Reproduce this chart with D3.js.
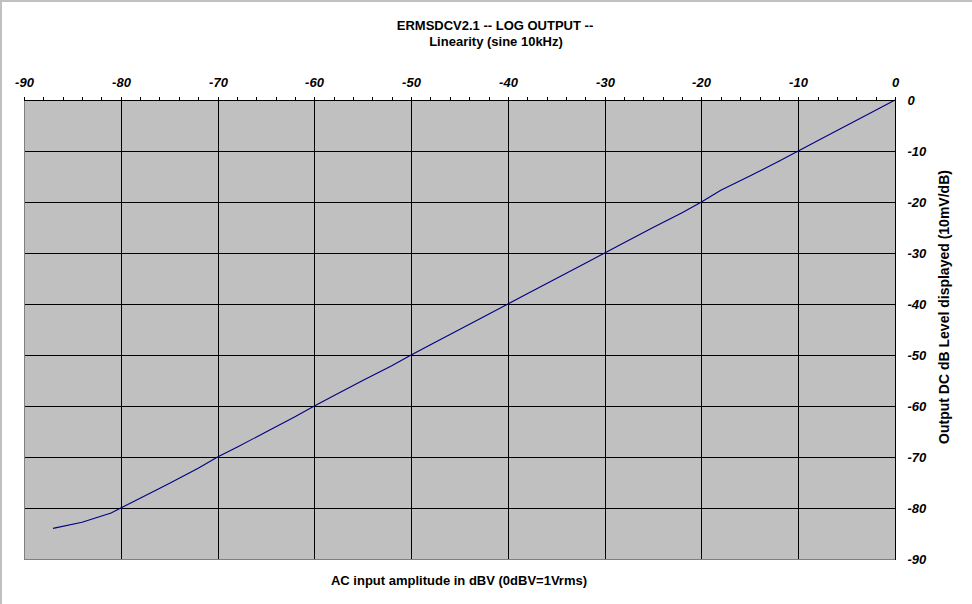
<!DOCTYPE html>
<html>
<head>
<meta charset="utf-8">
<script src="https://cdn.jsdelivr.net/npm/d3@7/dist/d3.min.js"></script>
<style>
  html, body { margin: 0; padding: 0; background: #ffffff; }
  svg { display: block; }
  text { font-family: "Liberation Sans", Arial, sans-serif; }
</style>
</head>
<body>
<svg id="chart" width="972" height="604"></svg>
<script>
// ---- data ----
const inputDbv = [-87, -84, -81, -80, -78, -75, -72, -70, -68, -65, -62, -60, -58, -55, -52, -50, -48, -45, -42, -40, -38, -35, -32, -30, -28, -25, -22, -20, -18, -15, -12, -10, -8, -5, -2, 0];
const outputDb = [-84.0, -82.8, -81.0, -80.0, -78.1, -75.2, -72.2, -70.0, -68.1, -65.1, -62.1, -60.0, -58.0, -55.0, -52.1, -50.0, -48.0, -45.0, -42.0, -40.0, -38.0, -35.0, -32.0, -30.0, -28.0, -25.0, -22.1, -20.0, -17.7, -14.9, -12.0, -10.0, -8.0, -5.0, -2.0, 0.0];
const xTicks = [-90, -80, -70, -60, -50, -40, -30, -20, -10, 0];
const yTicks = [0, -10, -20, -30, -40, -50, -60, -70, -80, -90];
const titleLines = ["ERMSDCV2.1 -- LOG OUTPUT --", "Linearity (sine 10kHz)"];
const xTitle = "AC input amplitude in dBV (0dBV=1Vrms)";
const yTitle = "Output DC dB Level displayed (10mV/dB)";

// ---- layout ----
const svg = d3.select("#chart");
const L = 24, R = 895, T = 100, B = 559;
const x = d3.scaleLinear().domain([-90, 0]).range([L, R]);
const y = d3.scaleLinear().domain([0, -90]).range([T, B]);
const sx = v => Math.round(x(v)) + 0.5;
const sy = v => Math.round(y(v)) + 0.5;

// outer frame (top & left)
svg.append("rect").attr("x", 0).attr("y", 0).attr("width", 972).attr("height", 2).attr("fill", "#c0c0c0");
svg.append("rect").attr("x", 0).attr("y", 0).attr("width", 2).attr("height", 604).attr("fill", "#c0c0c0");

// plot background
svg.append("rect").attr("x", L).attr("y", T).attr("width", R - L).attr("height", B - T).attr("fill", "#c0c0c0");

// gridlines
const grid = svg.append("g").attr("stroke", "#000").attr("stroke-width", 1).attr("shape-rendering", "crispEdges");
grid.selectAll("line.v").data(xTicks.filter(d => d > -90 && d < 0)).join("line")
  .attr("x1", d => sx(d)).attr("x2", d => sx(d)).attr("y1", T).attr("y2", B);
grid.selectAll("line.h").data(yTicks.filter(d => d < 0 && d > -90)).join("line")
  .attr("x1", L).attr("x2", R).attr("y1", d => sy(d)).attr("y2", d => sy(d));

// plot border left/bottom (gray)
svg.append("path").attr("d", `M${L + 0.5},${T}V${B + 0.5}H${R}`)
  .attr("fill", "none").attr("stroke", "#808080").attr("stroke-width", 1).attr("shape-rendering", "crispEdges");

// data line
const line = d3.line().x(d => x(d[0])).y(d => y(d[1]));
svg.append("path").datum(inputDbv.map((v, i) => [v, outputDb[i]]))
  .attr("d", line).attr("fill", "none").attr("stroke", "#000080").attr("stroke-width", 1.1);

// top axis
const xAxis = d3.axisTop(d3.scaleLinear().domain([-90, 0]).range([L + 0.5, R + 0.5]))
  .tickValues(d3.range(-90, 1, 2))
  .tickSize(4).tickPadding(10)
  .tickFormat(d => (d % 10 === 0 ? String(d) : ""));
const gx = svg.append("g").attr("transform", `translate(0,${T + 0.5})`).call(xAxis);
gx.select(".domain").attr("stroke", "#000").attr("d", `M${L},0H${R + 1}`).attr("shape-rendering", "crispEdges");
gx.selectAll(".tick line").attr("stroke", "#000").attr("shape-rendering", "crispEdges");
gx.selectAll(".tick").attr("transform", d => `translate(${sx(d)},0)`);
gx.selectAll(".tick text").attr("fill", "#000").attr("font-size", 13).attr("font-weight", "bold").attr("font-style", "italic")
  .attr("font-family", "'Liberation Sans', Arial, sans-serif");

// right axis
const yAxis = d3.axisRight(y).tickValues(yTicks).tickSize(0).tickPadding(12).tickFormat(d => String(d));
const gy = svg.append("g").attr("transform", `translate(${R + 0.5},0)`).call(yAxis);
gy.select(".domain").attr("stroke", "#000").attr("d", `M0,${T}V${B + 1}`).attr("shape-rendering", "crispEdges");
gy.selectAll(".tick text").attr("fill", "#000").attr("font-size", 13).attr("font-weight", "bold").attr("font-style", "italic")
  .attr("font-family", "'Liberation Sans', Arial, sans-serif").attr("text-anchor", "start");

// titles
svg.append("text").attr("x", 495).attr("y", 30).attr("text-anchor", "middle")
  .attr("font-size", 13).attr("font-weight", "bold").text(titleLines[0]);
svg.append("text").attr("x", 496).attr("y", 46).attr("text-anchor", "middle")
  .attr("font-size", 13).attr("font-weight", "bold").text(titleLines[1]);
svg.append("text").attr("x", 459).attr("y", 585).attr("text-anchor", "middle")
  .attr("font-size", 13).attr("font-weight", "bold").text(xTitle);
svg.append("text").attr("transform", "translate(949,307) rotate(-90)").attr("text-anchor", "middle")
  .attr("font-size", 14).attr("font-weight", "bold").text(yTitle);
</script>
</body>
</html>
